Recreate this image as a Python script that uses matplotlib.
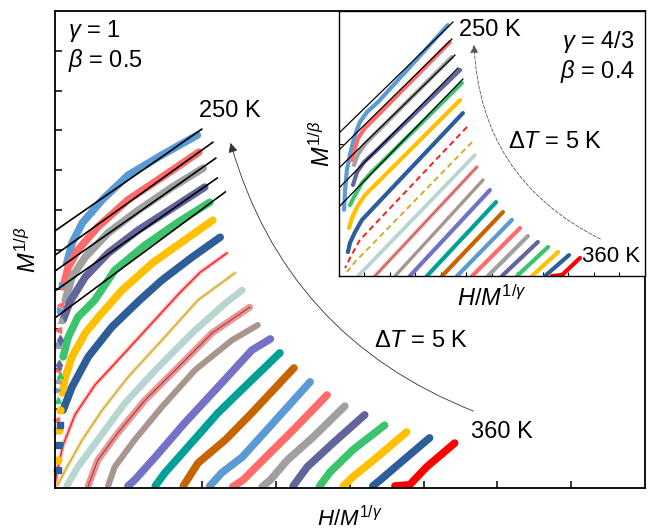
import matplotlib
matplotlib.use('Agg')
import matplotlib.pyplot as plt

plt.rcParams['font.family'] = ['Liberation Sans', 'DejaVu Sans']
plt.rcParams['mathtext.fontset'] = 'custom'
plt.rcParams['mathtext.rm'] = 'Liberation Sans'
plt.rcParams['mathtext.it'] = 'Liberation Sans:italic'

# isotherms 250 K ... 360 K, step 5 K
temps = list(range(250, 365, 5))
colors = ['#5B9BD5', '#FF6B6B', '#A0A0A0', '#62649C', '#3CC36E', '#FFC000', '#2E5E9A',
          '#FF1A1A', '#D4AA2A', '#7DB5AE', '#D04040', '#A8968E', '#7472C6', '#00A096',
          '#C86400', '#5B9BD5', '#FF6B6B', '#A0A0A0', '#62649C', '#3CC36E', '#FFC000',
          '#2E5E9A', '#FF0000']

# main panel: mean-field (gamma = 1, beta = 0.5)
main_x = [
    [1.93, 1.45, 0.99, 0.64, 0.37, 0.23, 0.16],
    [1.95, 1.45, 0.99, 0.58, 0.31, 0.18, 0.11],
    [2.01, 1.59, 1.13, 0.72, 0.41, 0.23, 0.14],
    [2.03, 1.59, 1.13, 0.72, 0.41, 0.20, 0.11],
    [2.10, 1.67, 1.22, 0.81, 0.54, 0.31, 0.18, 0.11],
    [2.14, 1.76, 1.32, 0.91, 0.61, 0.41, 0.23, 0.14, 0.095],
    [2.24, 1.86, 1.45, 1.15, 0.77, 0.45, 0.23, 0.11],
    [2.33, 1.97, 1.69, 1.29, 0.88, 0.54, 0.27, 0.11, 0.03, 0.0],
    [2.44, 1.94, 1.45, 0.99, 0.64, 0.37, 0.14, 0.04],
    [2.54, 2.31, 1.86, 1.40, 0.95, 0.58, 0.31, 0.16],
    [2.64, 2.13, 1.67, 1.22, 0.85, 0.58, 0.45],
    [2.75, 2.40, 1.90, 1.45, 1.08, 0.81, 0.72],
    [2.92, 2.67, 2.21, 1.76, 1.36, 1.08, 0.99],
    [3.05, 2.67, 2.21, 1.80, 1.49, 1.36],
    [3.24, 2.67, 2.31, 1.94, 1.74],
    [3.46, 2.96, 2.54, 2.26, 2.10],
    [3.69, 3.23, 2.78, 2.55, 2.41],
    [3.93, 3.50, 3.15, 2.92, 2.81],
    [4.20, 3.77, 3.42, 3.23],
    [4.47, 4.04, 3.73, 3.59],
    [4.77, 4.37, 4.04, 3.91],
    [5.08, 4.68, 4.41, 4.31],
    [5.42, 5.04, 4.81, 4.61],
]
main_y = [
    [8.88, 8.38, 7.87, 7.25, 6.67, 6.16, 5.66],
    [8.45, 7.82, 7.25, 6.57, 5.99, 5.56, 5.06],
    [8.05, 7.57, 6.99, 6.42, 5.81, 5.31, 4.73],
    [7.57, 7.04, 6.49, 5.91, 5.31, 4.68, 4.23],
    [7.19, 6.69, 6.11, 5.48, 4.73, 4.30, 3.80, 3.30],
    [6.74, 6.24, 5.66, 4.98, 4.35, 3.90, 3.30, 2.79, 2.39],
    [6.31, 5.81, 5.23, 4.73, 4.05, 3.30, 2.54, 1.96],
    [5.91, 5.43, 4.91, 4.10, 3.27, 2.59, 1.84, 1.08, 0.45, 0.05],
    [5.41, 4.73, 3.72, 2.79, 1.96, 1.21, 0.45, 0.08],
    [4.98, 4.65, 3.90, 3.04, 2.14, 1.21, 0.53, 0.05],
    [4.55, 3.90, 3.04, 2.21, 1.38, 0.70, 0.05],
    [4.10, 3.72, 2.97, 2.04, 1.21, 0.53, 0.05],
    [3.75, 3.47, 2.54, 1.64, 0.78, 0.20, 0.05],
    [3.40, 2.72, 1.89, 1.03, 0.38, 0.05],
    [3.02, 1.89, 1.21, 0.63, 0.05],
    [2.67, 1.64, 0.78, 0.38, 0.05],
    [2.34, 1.46, 0.63, 0.20, 0.03],
    [2.06, 1.28, 0.70, 0.20, 0.03],
    [1.84, 1.13, 0.53, 0.05],
    [1.58, 0.96, 0.40, 0.05],
    [1.41, 0.78, 0.28, 0.05],
    [1.26, 0.63, 0.20, 0.05],
    [1.13, 0.53, 0.08, 0.05],
]
# low-field points piled up along the vertical axis (curves below Tc)
tail_x = [
    [0.09, 0.07, 0.04, 0.03, 0.03],
    [0.07, 0.04, 0.03, 0.01, 0.01],
    [0.08, 0.05, 0.04],
    [0.07, 0.05],
    [0.07, 0.04, 0.03],
    [0.07, 0.05, 0.04],
    [0.07, 0.05, 0.04],
]
tail_y = [
    [5.11, 4.48, 3.60, 2.47, 1.46],
    [4.60, 3.97, 2.97, 1.71, 0.45],
    [4.23, 3.60, 2.72],
    [3.72, 3.09],
    [2.84, 2.21, 1.46],
    [1.96, 1.46, 0.70],
    [1.58, 1.08, 0.45],
]
tail_markers = ['>', '<', '^', 'd', '^', 'o', 's']
# linear fits, from x = 0 to fit_x_end
fit_x_end = [1.99, 2.14, 2.18, 2.20, 2.31]
fit_y0 = [6.47, 5.86, 5.46, 4.96, 4.28]
fit_y1 = [9.03, 8.70, 8.30, 7.80, 7.45]

# inset: 3D Heisenberg-like (gamma = 4/3, beta = 0.4)
ins_x = [
    [4.27, 1.53, 1.10, 0.82, 0.67, 0.55, 0.43, 0.31, 0.24, 0.20],
    [4.35, 1.41, 1.02, 0.75, 0.63, 0.51],
    [4.43, 1.41, 1.02, 0.75, 0.59],
    [4.75, 1.41, 0.98, 0.71, 0.55],
    [4.82, 1.29, 0.90, 0.63, 0.43],
    [4.75, 1.02, 0.71, 0.51, 0.39],
    [4.86, 0.90, 0.63, 0.43, 0.35],
    [5.02, 0.82, 0.43, 0.24],
    [5.22, 0.63, 0.31],
    [5.33, 0.75],
    [5.41, 1.41],
    [5.65, 2.20],
    [5.92, 2.78],
    [6.16, 3.45],
    [6.43, 4.04],
    [6.78, 4.63],
    [7.10, 5.22],
    [7.41, 5.84],
    [7.80, 6.39],
    [8.20, 6.98],
    [8.59, 7.57],
    [9.02, 8.08],
    [9.45, 8.75, 8.35],
]
ins_y = [
    [1.894, 1.313, 1.238, 1.162, 1.087, 1.011, 0.913, 0.80, 0.65, 0.50],
    [1.766, 1.192, 1.117, 1.042, 0.966, 0.875],
    [1.653, 1.072, 0.996, 0.921, 0.838],
    [1.555, 0.936, 0.860, 0.785, 0.687],
    [1.457, 0.785, 0.702, 0.611, 0.536],
    [1.328, 0.611, 0.521, 0.438, 0.362],
    [1.230, 0.423, 0.332, 0.249, 0.181],
    [1.125, 0.272, 0.136, 0.060],
    [1.011, 0.106, 0.03],
    [0.913, 0.0],
    [0.823, 0.0],
    [0.725, 0.0],
    [0.649, 0.0],
    [0.558, 0.0],
    [0.483, 0.0],
    [0.423, 0.0],
    [0.362, 0.0],
    [0.302, 0.0],
    [0.257, 0.0],
    [0.219, 0.0],
    [0.181, 0.0],
    [0.158, 0.0],
    [0.136, 0.008, 0.0],
]
ins_fit_x_end = [4.47, 4.43, 4.55, 4.67, 4.86]
ins_fit_y0 = [1.079, 0.951, 0.815, 0.664, 0.521]
ins_fit_y1 = [1.917, 1.789, 1.668, 1.570, 1.487]

fig = plt.figure(figsize=(6.54, 5.31), dpi=100)
ax = fig.add_axes([0.0841, 0.081, 0.902, 0.898])
ins = fig.add_axes([0.5183, 0.4802, 0.4679, 0.499])


def draw_curve(a, i, xs, ys, big):
    c = colors[i]
    w = 5.5 if big else 3.0
    if i in (7, 8):
        # thin curves with cross markers
        if big:
            a.plot(xs, ys, color=c, lw=3, alpha=0.3, solid_capstyle='round')
            a.plot(xs, ys, color=c, lw=1.0)
        else:
            a.plot(xs, ys, color=c, lw=1.4, ls=(0, (3, 2)))
    elif i in (9, 10):
        # hatched-looking star/cross markers
        a.plot(xs, ys, color=c, lw=w * 0.9, alpha=0.55, solid_capstyle='round')
        if i == 10:
            a.plot(xs, ys, color='#B01818', lw=0.8 if big else 0.5, alpha=0.8)
    else:
        a.plot(xs, ys, color=c, lw=w if i != 11 else w * 0.8,
               solid_capstyle='round', solid_joinstyle='round')


for i in range(len(temps)):
    draw_curve(ax, i, main_x[i], main_y[i], True)
for i in range(len(tail_x)):
    ax.plot(tail_x[i], tail_y[i], ls='none', marker=tail_markers[i], ms=5,
            color=colors[i], clip_on=False)
for i in range(len(fit_x_end)):
    ax.plot([0, fit_x_end[i]], [fit_y0[i], fit_y1[i]], color='k', lw=1.2, zorder=5)

ax.set_xlim(0, 8)
ax.set_ylim(0, 12)
ax.set_xticks(range(1, 8))
ax.set_yticks(range(1, 12))
ax.tick_params(direction='in', length=5, width=1.1, labelbottom=False, labelleft=False)
for s in ax.spines.values():
    s.set_linewidth(1.3)
ax.set_xlabel(r'$H/M^{1/\gamma}$', fontsize=16, labelpad=13)
ax.set_ylabel(r'$M^{1/\beta}$', fontsize=17, labelpad=10)

ax.text(0.18, 11.5, r'$\gamma$ = 1', fontsize=17, va='center')
ax.text(0.18, 10.75, r'$\beta$ = 0.5', fontsize=17, va='center')
ax.text(2.37, 9.48, '250 K', fontsize=17, ha='center', va='center')
ax.text(4.96, 3.70, r'$\Delta T$ = 5 K', fontsize=17, ha='center', va='center')
ax.text(6.06, 1.42, '360 K', fontsize=17, ha='center', va='center')
ax.annotate('', xy=(2.37, 8.75), xytext=(5.71, 1.91),
            arrowprops=dict(arrowstyle='-|>', color='#333333', lw=0.6,
                            mutation_scale=14, connectionstyle='arc3,rad=-0.25'))

for i in range(len(temps)):
    draw_curve(ins, i, ins_x[i], ins_y[i], False)
for i in range(len(ins_fit_x_end)):
    ins.plot([0, ins_fit_x_end[i]], [ins_fit_y0[i], ins_fit_y1[i]], color='k', lw=0.9, zorder=5)

ins.set_xlim(0, 12)
ins.set_ylim(0, 2)
ins.set_xticks(range(1, 12))
ins.set_yticks([1])
ins.tick_params(direction='in', length=3, width=0.8, labelbottom=False, labelleft=False)
for s in ins.spines.values():
    s.set_linewidth(1.0)
ins.set_xlabel(r'$H/M^{1/\gamma}$', fontsize=17, labelpad=7)
ins.set_ylabel(r'$M^{1/\beta}$', fontsize=17, labelpad=3)

ins.text(5.9, 1.86, '250 K', fontsize=17, ha='center', va='center')
ins.text(11.6, 1.77, r'$\gamma$ = 4/3', fontsize=17, ha='right', va='center')
ins.text(11.6, 1.54, r'$\beta$ = 0.4', fontsize=17, ha='right', va='center')
ins.text(8.47, 1.01, r'$\Delta T$ = 5 K', fontsize=17, ha='center', va='center')
ins.text(10.67, 0.15, '360 K', fontsize=16, ha='center', va='center')
ins.annotate('', xy=(5.29, 1.766), xytext=(10.35, 0.27),
             arrowprops=dict(arrowstyle='-|>', color='#555555', lw=0.6, ls=(0, (4, 2)),
                             mutation_scale=12, connectionstyle='arc3,rad=-0.3'))

fig.savefig('out.png', dpi=100)
